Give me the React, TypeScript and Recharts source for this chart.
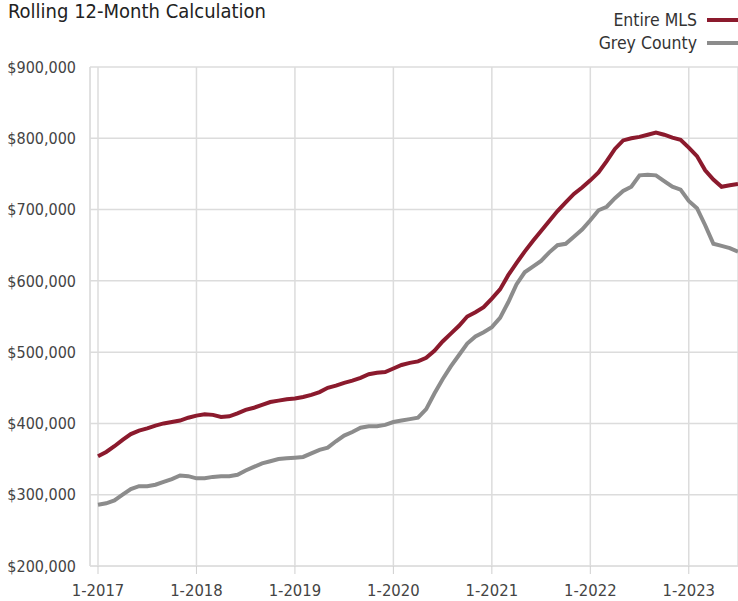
import { LineChart, Line, XAxis, YAxis, CartesianGrid, Legend } from "recharts";

// Rolling 12-month average price, monthly from 1-2017 to 7-2023
const entireMLS = [
  354000, 360000, 368000, 377000, 385000, 390000, 393000, 397000, 400000, 402000, 404000, 408000,
  411000, 413000, 412000, 409000, 410000, 414000, 419000, 422000, 426000, 430000, 432000, 434000,
  435000, 437000, 440000, 444000, 450000, 453000, 457000, 460000, 464000, 469000, 471000, 472000,
  477000, 482000, 485000, 487000, 492000, 502000, 515000, 526000, 537000, 550000, 556000, 563000,
  575000, 588000, 608000, 625000, 641000, 656000, 670000, 684000, 698000, 710000, 722000, 731000,
  741000, 752000, 768000, 785000, 797000, 800000, 802000, 805000, 808000, 805000, 801000, 798000,
  787000, 775000, 755000, 742000, 732000, 734000, 736000,
];

const greyCounty = [
  286000, 288000, 292000, 300000, 308000, 312000, 312000, 314000, 318000, 322000, 327000, 326000,
  323000, 323000, 325000, 326000, 326000, 328000, 334000, 339000, 344000, 347000, 350000, 351000,
  352000, 353000, 358000, 363000, 366000, 375000, 383000, 388000, 394000, 396000, 396000, 398000,
  402000, 404000, 406000, 408000, 420000, 442000, 462000, 480000, 496000, 512000, 522000, 528000,
  535000, 548000, 570000, 595000, 612000, 620000, 628000, 640000, 650000, 652000, 662000, 672000,
  685000, 699000, 704000, 716000, 726000, 732000, 748000, 749000, 748000, 740000, 732000, 728000,
  712000, 702000, 678000, 652000, 649000, 646000, 641000,
];

const yearLabels = ["1-2017", "1-2018", "1-2019", "1-2020", "1-2021", "1-2022", "1-2023"];
const yTicks = [200000, 300000, 400000, 500000, 600000, 700000, 800000, 900000];

const data = entireMLS.map((v, i) => ({ idx: i, mls: v, grey: greyCounty[i] }));
const xTicks = yearLabels.map((_, i) => i * 12);

const FONT = '"DejaVu Sans Condensed", "Liberation Sans", sans-serif';
const RED = "#8b1a2d";
const GREY = "#8c8c8c";

const legendItems = [
  { name: "Entire MLS", color: RED },
  { name: "Grey County", color: GREY },
];

function LegendBox() {
  return (
    <div style={{ fontFamily: FONT, fontSize: 17.5, color: "#333" }}>
      {legendItems.map((it) => (
        <div
          key={it.name}
          style={{ display: "flex", alignItems: "center", justifyContent: "flex-end", height: 23 }}
        >
          <span>{it.name}</span>
          <span
            style={{ display: "inline-block", width: 31, height: 4, marginLeft: 10, background: it.color }}
          />
        </div>
      ))}
    </div>
  );
}

export default function App() {
  return (
    <div style={{ position: "absolute", left: 0, top: 0, width: 738, height: 601, background: "#fff" }}>
      <div
        style={{
          position: "absolute",
          left: 8,
          top: 1,
          fontFamily: FONT,
          fontSize: 20,
          lineHeight: "20px",
          color: "#222",
          zIndex: 2,
        }}
      >
        Rolling 12-Month Calculation
      </div>
      <LineChart width={738} height={601} data={data} margin={{ top: 67, right: 0, bottom: 0, left: 0 }}>
        <CartesianGrid stroke="#dcdcdc" strokeWidth={1.5} />
        <XAxis
          dataKey="idx"
          type="number"
          domain={[0, 78]}
          ticks={xTicks}
          tickFormatter={(v: number) => yearLabels[v / 12]}
          padding={{ left: 8, right: 0 }}
          height={35}
          tickSize={8}
          tickMargin={10}
          tickLine={{ stroke: "#cfcfcf" }}
          axisLine={{ stroke: "#dcdcdc" }}
          tick={{ fill: "#444", fontSize: 16.5, fontFamily: FONT }}
        />
        <YAxis
          domain={[200000, 900000]}
          ticks={yTicks}
          width={90}
          tickSize={0}
          tickMargin={14}
          tickLine={false}
          axisLine={{ stroke: "#dcdcdc" }}
          tickFormatter={(v: number) => "$" + v.toLocaleString("en-US")}
          tick={{ fill: "#444", fontSize: 16, fontFamily: FONT }}
        />
        <Legend
          layout="vertical"
          align="center"
          verticalAlign="middle"
          wrapperStyle={{ top: 8, right: 0, left: "auto", width: 300 }}
          content={() => <LegendBox />}
        />
        <Line
          dataKey="grey"
          name="Grey County"
          stroke={GREY}
          strokeWidth={4}
          dot={false}
          isAnimationActive={false}
        />
        <Line
          dataKey="mls"
          name="Entire MLS"
          stroke={RED}
          strokeWidth={4}
          dot={false}
          isAnimationActive={false}
        />
      </LineChart>
    </div>
  );
}
